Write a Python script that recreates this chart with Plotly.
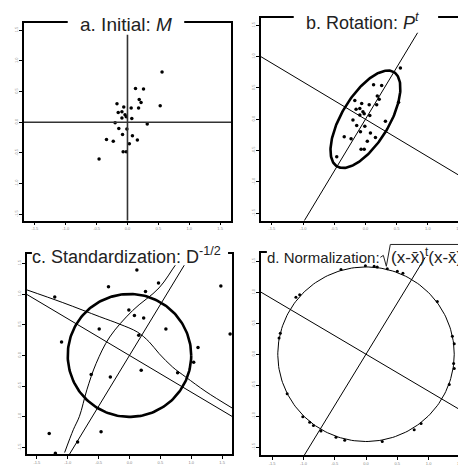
import numpy as np
import plotly.graph_objects as go

# panel a / b: centred data M
m_x = [0.56, 0.13, 0.26, 0.19, 0.22, -0.17, 0.53, -0.06, 0.06, 0.18, -0.15, -0.09, -0.04, -0.02, -0.09,
       0.07, -0.20, 0.32, -0.14, -0.01, -0.08, 0.08, -0.34, -0.23, 0.16, 0.03, -0.07, -0.02, -0.46]
m_y = [0.82, 0.55, 0.54, 0.37, 0.32, 0.30, 0.27, 0.25, 0.23, 0.23, 0.16, 0.17, 0.12, 0.09, 0.07,
       0.06, -0.01, -0.03, -0.10, -0.11, -0.20, -0.22, -0.28, -0.31, -0.29, -0.35, -0.48, -0.48, -0.60]

# principal axes (rotation P^t)
major_axis_x = [-1.10, 1.10]
major_axis_y = [-1.82, 1.82]
minor_axis_x = [-1.80, 1.80]
minor_axis_y = [1.075, -1.075]
ellipse_semi = [0.88, 0.38]
ellipse_angle = 58.8

# panel c: standardized
s_x = [0.12, -0.34, 0.47, 1.48, -1.21, 0.26, -0.01, 0.08, 0.23, -0.49, 0.59, 0.15, 1.63, -1.10,
       1.11, 1.04, 0.19, 0.78, -0.62, -0.31, -1.30, -0.46, -0.84, -1.20]
s_y = [1.39, 1.12, 1.18, 1.13, 0.95, 1.04, 0.74, 0.65, 0.61, 0.43, 0.43, 0.33, 0.35, 0.22,
       0.13, -0.11, -0.24, -0.28, -0.31, -0.35, -1.27, -1.24, -1.41, -1.59]
curve1_x = [-1.67, -1.08, -0.48, -0.16, 0.13, 0.32, 0.48, 0.70, 0.91, 1.24, 1.67]
curve1_y = [1.07, 0.86, 0.63, 0.51, 0.38, 0.22, 0.03, -0.19, -0.35, -0.59, -0.86]
curve2_x = [-1.05, -0.91, -0.81, -0.69, -0.54, -0.32, 0.05, 0.48, 0.75, 0.91]
curve2_y = [-1.58, -1.21, -0.99, -0.56, -0.13, 0.30, 0.73, 1.10, 1.48, 1.69]
unit_radius = 1.0

# panel d: normalized
n_x = [-0.40, -0.01, 0.13, 0.18, 0.34, 0.50, 0.59, 1.14, -1.12, -1.06, -1.37, -1.39, 1.38, 1.41,
       1.40, 1.41, 1.33, -1.26, -1.01, -0.90, -0.84, -0.72, -0.48, -0.34, 0.26, 0.77, 0.88]
n_y = [1.37, 1.43, 1.42, 1.41, 1.38, 1.34, 1.31, 0.85, 0.92, 0.96, 0.34, 0.26, 0.29, 0.17,
       -0.15, -0.23, -0.49, -0.64, -1.01, -1.10, -1.15, -1.24, -1.34, -1.39, -1.41, -1.22, -1.12]
norm_radius = 1.41

tick_vals = [-1.5, -1.0, -0.5, 0.0, 0.5, 1.0, 1.5]
tick_text = ['-1.5', '-1.0', '-0.5', '0.0', '0.5', '1.0', '1.5']

# page body has an 8px margin, so work in screen pixels and shift
OFF = 8
FW = 466 - OFF


def px_x(p):
    return (p - OFF) / FW


def px_y(p):
    return 1 - (p - OFF) / FW


fig = go.Figure()

dot = dict(color='black', size=3.5)
thin = dict(color='black', width=1)

# a
fig.add_trace(go.Scatter(x=m_x, y=m_y, mode='markers', marker=dot, xaxis='x', yaxis='y'))
fig.add_trace(go.Scatter(x=[-2, 2], y=[0, 0], mode='lines', line=dict(color='#333', width=1.6),
                         xaxis='x', yaxis='y'))
fig.add_trace(go.Scatter(x=[0, 0], y=[-2, 2], mode='lines', line=dict(color='#333', width=1.6),
                         xaxis='x', yaxis='y'))

# b
t = np.linspace(0, 2 * np.pi, 200)
ang = np.radians(ellipse_angle)
ex = ellipse_semi[0] * np.cos(t) * np.cos(ang) - ellipse_semi[1] * np.sin(t) * np.sin(ang)
ey = ellipse_semi[0] * np.cos(t) * np.sin(ang) + ellipse_semi[1] * np.sin(t) * np.cos(ang)
fig.add_trace(go.Scatter(x=m_x, y=m_y, mode='markers', marker=dot, xaxis='x2', yaxis='y2'))
fig.add_trace(go.Scatter(x=major_axis_x, y=major_axis_y, mode='lines', line=thin, xaxis='x2', yaxis='y2'))
fig.add_trace(go.Scatter(x=minor_axis_x, y=minor_axis_y, mode='lines', line=thin, xaxis='x2', yaxis='y2'))
fig.add_trace(go.Scatter(x=ex, y=ey, mode='lines', line=dict(color='black', width=2.6),
                         xaxis='x2', yaxis='y2'))

# c
fig.add_trace(go.Scatter(x=s_x, y=s_y, mode='markers', marker=dot, xaxis='x3', yaxis='y3'))
fig.add_trace(go.Scatter(x=major_axis_x, y=major_axis_y, mode='lines', line=thin, xaxis='x3', yaxis='y3'))
fig.add_trace(go.Scatter(x=minor_axis_x, y=minor_axis_y, mode='lines', line=thin, xaxis='x3', yaxis='y3'))
fig.add_trace(go.Scatter(x=curve1_x, y=curve1_y, mode='lines', line=dict(color='black', width=1, shape='spline'),
                         xaxis='x3', yaxis='y3'))
fig.add_trace(go.Scatter(x=curve2_x, y=curve2_y, mode='lines', line=dict(color='black', width=1, shape='spline'),
                         xaxis='x3', yaxis='y3'))
fig.add_trace(go.Scatter(x=unit_radius * np.cos(t), y=unit_radius * np.sin(t), mode='lines',
                         line=dict(color='black', width=2.6), xaxis='x3', yaxis='y3'))

# d
fig.add_trace(go.Scatter(x=norm_radius * np.cos(t), y=norm_radius * np.sin(t), mode='lines',
                         line=thin, xaxis='x4', yaxis='y4'))
fig.add_trace(go.Scatter(x=n_x, y=n_y, mode='markers', marker=dict(color='black', size=3),
                         xaxis='x4', yaxis='y4'))
fig.add_trace(go.Scatter(x=major_axis_x, y=major_axis_y, mode='lines', line=thin, xaxis='x4', yaxis='y4'))
fig.add_trace(go.Scatter(x=minor_axis_x, y=minor_axis_y, mode='lines', line=thin, xaxis='x4', yaxis='y4'))


def ax(domain, rng, anchor, is_y=False):
    d = dict(domain=[max(0, domain[0]), min(1, domain[1])], range=rng, anchor=anchor,
             showgrid=False, zeroline=False,
             showline=True, mirror=True, linecolor='black', linewidth=1.5,
             ticks='outside', ticklen=3, tickwidth=1, tickcolor='black',
             tickvals=tick_vals, ticktext=tick_text,
             tickfont=dict(size=4, color='#888', family='Liberation Sans'), fixedrange=True)
    if is_y:
        d['tickangle'] = -90
    return d


fig.update_layout(
    width=FW, height=FW, margin=dict(l=0, r=0, t=0, b=0),
    paper_bgcolor='white', plot_bgcolor='white', showlegend=False,
    xaxis=ax([px_x(24), px_x(232)], [-1.677, 1.677], 'y'),
    yaxis=ax([px_y(222), px_y(23)], [-1.602, 1.618], 'x', True),
    xaxis2=ax([px_x(262), px_x(466)], [-1.675, 1.579], 'y2'),
    yaxis2=ax([px_y(222), px_y(18)], [-1.619, 1.619], 'x2', True),
    xaxis3=ax([px_x(27), px_x(233)], [-1.661, 1.661], 'y3'),
    yaxis3=ax([px_y(457), px_y(256)], [-1.605, 1.645], 'x3', True),
    xaxis4=ax([px_x(262), px_x(466)], [-1.68, 1.566], 'y4'),
    yaxis4=ax([px_y(458), px_y(255)], [-1.629, 1.629], 'x4', True),
)
# right-side labels of panel c
y5 = ax([px_y(457), px_y(256)], [-1.605, 1.645], 'x3', True)
y5.update(overlaying='y3', side='right', ticks='', showline=False)
fig.update_layout(yaxis5=y5)

# white boxes that break the top border for the titles
for x0, x1, y0, y1 in [(68, 185, 8, 35), (295, 440, 8, 33), (32, 229, 240, 267), (268, 466, 240, 259)]:
    fig.add_shape(type='rect', xref='paper', yref='paper', x0=px_x(x0), x1=px_x(x1),
                  y0=px_y(y1), y1=px_y(y0), fillcolor='white', line=dict(width=0), layer='above')

# radical sign for the d title
rad = [(382, 259), (385, 257), (388, 268), (392, 246), (470, 246)]
path = 'M ' + ' L '.join('%.4f,%.4f' % (px_x(a), px_y(b)) for a, b in rad)
fig.add_shape(type='path', path=path, xref='paper', yref='paper',
              line=dict(color='#222', width=1), layer='above')

title_font = dict(family='Liberation Sans', color='#222')
titles = [
    ('a. Initial: <i>M</i>', 127, 25, 19, 'center'),
    ('b. Rotation: <i>P</i><sup><i>t</i></sup>', 364, 22, 18, 'center'),
    ('c. Standardization: D<sup>-1/2</sup>', 127, 257, 18, 'center'),
    ('d. Normalization:', 383, 259, 15, 'right'),
    ('(x-x\u0304)<sup>t</sup>(x-x\u0304)', 392, 258, 17, 'left'),
]
for text, cx, cy, size, anchor in titles:
    fig.add_annotation(text=text, xref='paper', yref='paper', x=px_x(cx), y=px_y(cy),
                       showarrow=False, font=dict(size=size, **title_font),
                       xanchor=anchor, yanchor='middle', borderpad=0)

fig.write_html("out.html")
